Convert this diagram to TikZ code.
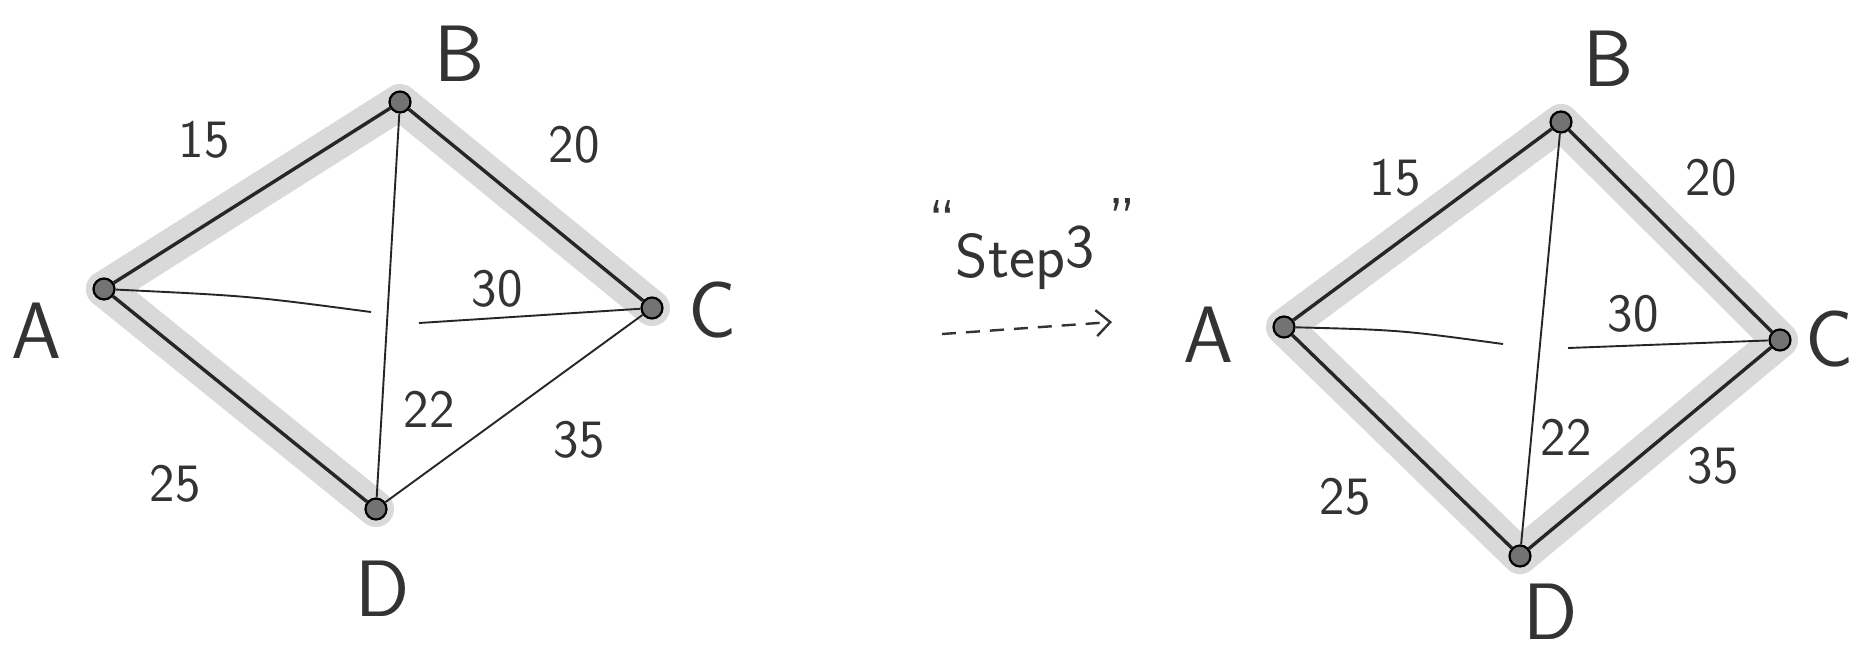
\documentclass[tikz,border=0pt]{standalone}
\usetikzlibrary{arrows.meta,backgrounds}
\begin{document}
\tikzset{
  vert/.style={circle, draw=black, fill=black!55, line width=2.2pt, minimum size=21pt, inner sep=0pt},
  heavy/.style={line width=3.4pt, black!85},
  light/.style={line width=1.9pt, black!85},
  glow/.style={line width=36pt, black!15, line cap=round, line join=round},
  vlabel/.style={font=\fontsize{80}{82}\selectfont\sffamily, text=black!80, inner sep=0pt},
  wlabel/.style={font=\fontsize{54}{56}\selectfont\sffamily, text=black!80, inner sep=0pt},
  steplabel/.style={font=\fontsize{62}{64}\selectfont\sffamily, text=black!80, inner sep=0pt},
  steparrow/.style={line width=2.4pt, black!80, dash pattern=on 14pt off 10pt, -{Straight Barb[length=14pt,width=26pt,line width=2.4pt]}},
}
\begin{tikzpicture}[x=1pt,y=-1pt]
\useasboundingbox (0,0) rectangle (1860,657);

% ---------- left graph ----------
\node[vert] (lA) at (104,289) {};
\node[vert] (lB) at (400,102) {};
\node[vert] (lC) at (652,308) {};
\node[vert] (lD) at (376,509) {};
\coordinate (lG1) at (371,312);
\coordinate (lG2) at (419,323);

% ---------- right graph nodes ----------
\node[vert] (rA) at (1284,327) {};
\node[vert] (rB) at (1561,122) {};
\node[vert] (rC) at (1780,340) {};
\node[vert] (rD) at (1520,556) {};
\coordinate (rG1) at (1503,344);
\coordinate (rG2) at (1568,348);

\begin{scope}[on background layer]
  \fill[white] (0,0) rectangle (1860,657);
  \draw[glow] (lA.center) -- (lB.center) -- (lC.center);
  \draw[glow] (lA.center) -- (lD.center);
  \draw[glow] (rA.center) -- (rB.center) -- (rC.center) -- (rD.center) -- cycle;
\end{scope}

\draw[heavy] (lA) -- (lB);
\draw[heavy] (lB) -- (lC);
\draw[heavy] (lA) -- (lD);
\draw[light] (lB) -- (lD);
\draw[light] (lC) -- (lD);
\draw[light] (lA) .. controls (250,296) .. (lG1);
\draw[light] (lG2) -- (lC);

\node[vlabel] (lbA) at (36,331) {A};
\node[vlabel] (lbB) at (460,54) {B};
\node[vlabel] (lbC) at (713,310) {C};
\node[vlabel] (lbD) at (383,589) {D};
\node[wlabel] (lw15) at (204,140) {15};
\node[wlabel] (lw20) at (574,145) {20};
\node[wlabel] (lw30) at (497,289) {30};
\node[wlabel] (lw22) at (429,409) {22};
\node[wlabel] (lw35) at (579,440) {35};
\node[wlabel] (lw25) at (175,484) {25};

% ---------- step label ----------
\node[steplabel] (step) at (1025,258) {Step\raisebox{10pt}{3}};
\node[steplabel] (q1) at (942,222) {``};
\node[steplabel] (q2) at (1122,220) {''};
\coordinate (arrS) at (942,334);
\coordinate (arrE) at (1112,322);
\draw[steparrow] (arrS) -- (arrE);

% ---------- right graph edges ----------
\draw[heavy] (rA) -- (rB);
\draw[heavy] (rB) -- (rC);
\draw[heavy] (rC) -- (rD);
\draw[heavy] (rA) -- (rD);
\draw[light] (rB) -- (rD);
\draw[light] (rA) .. controls (1400,330) .. (rG1);
\draw[light] (rG2) -- (rC);

\node[vlabel] (rbA) at (1208,335) {A};
\node[vlabel] (rbB) at (1609,59) {B};
\node[vlabel] (rbC) at (1830,339) {C};
\node[vlabel] (rbD) at (1551,612) {D};
\node[wlabel] (rw15) at (1395,178) {15};
\node[wlabel] (rw20) at (1711,178) {20};
\node[wlabel] (rw30) at (1633,314) {30};
\node[wlabel] (rw22) at (1566,437) {22};
\node[wlabel] (rw35) at (1713,466) {35};
\node[wlabel] (rw25) at (1345,497) {25};
\end{tikzpicture}
\end{document}
